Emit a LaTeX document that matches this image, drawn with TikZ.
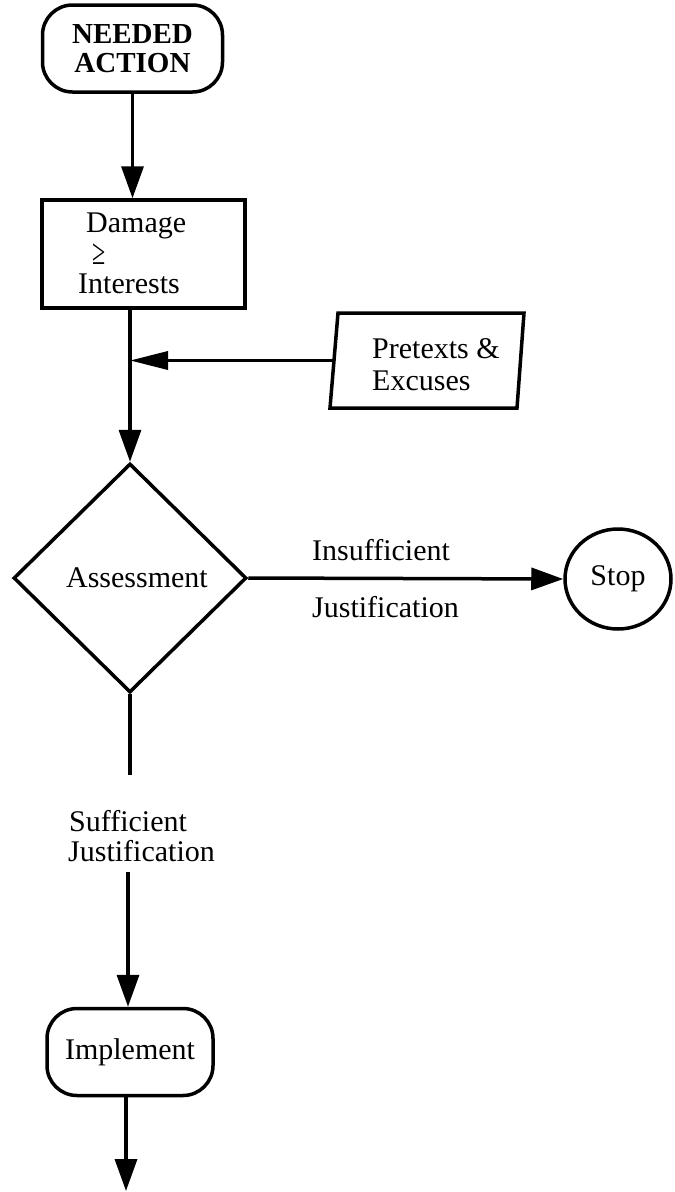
\documentclass[tikz,border=0pt]{standalone}
\usepackage{fontspec}
\setmainfont{Liberation Serif}
\usetikzlibrary{arrows.meta,shapes.geometric,calc}
\begin{document}
\begin{tikzpicture}[x=1pt,y=-1pt,
  every node/.style={font=\fontsize{30}{31}\selectfont, inner sep=0pt},
  ln/.style={line width=3.5pt},
  arr/.style={ln, -{Triangle[length=32pt,width=22pt]}},
  arrlong/.style={ln, -{Triangle[length=38pt,width=18pt]}},
  rbox/.style={draw, ln, rectangle, rounded corners=30pt},
  sbox/.style={draw, ln, rectangle},
  lbl/.style={anchor=base west}
]
\useasboundingbox (0,0) rectangle (675,1192);

% NEEDED ACTION
\node[rbox, minimum width=180pt, minimum height=87pt, align=center,
      font=\bfseries\fontsize{29}{29}\selectfont] (need) at (132.5,48.5) {NEEDED\\ACTION};

% Damage >= Interests
\node[sbox, minimum width=203pt, minimum height=108pt] (dam) at (143.5,254) {};
\node[lbl] (damA) at (86,232) {Damage};
\node[lbl] (damB) at (92,264) {\scalebox{0.8}[1.2]{≥}};
\node[lbl] (damC) at (78,293) {Interests};

% Pretexts & Excuses
\coordinate (preTL) at (338,313);
\coordinate (preTR) at (524,313);
\coordinate (preBR) at (517,408);
\coordinate (preBL) at (330,408);
\draw[ln, line join=miter] (preTL) -- (preTR) -- (preBR) -- (preBL) -- cycle;
\coordinate (pre) at ($(preTL)!0.5!(preBL)$);
\node[lbl] (preA) at (372,358) {Pretexts \&};
\node[lbl] (preB) at (372,390) {Excuses};

% Assessment
\node[draw, ln, diamond, aspect=1, minimum width=233pt, minimum height=229pt] (dia) at (130,578) {\hspace*{14pt}Assessment};

% Stop
\node[draw, ln, ellipse, minimum width=106pt, minimum height=100pt] (stop) at (618,579) {Stop};

% Implement
\node[rbox, minimum width=166pt, minimum height=87pt] (impl) at (130,1052) {\raisebox{4pt}{Implement}};

% labels
\node[lbl] (insA) at (312,560) {Insufficient};
\node[lbl] (insB) at (312,617) {Justification};
\node[lbl] (sufA) at (69,831) {Sufficient};
\node[lbl] (sufB) at (68,861) {Justification};

% connectors
\draw[arr] (need.south) -- (need.south |- dam.north);
\draw[arr] (dia.north |- dam.south) -- (dia.north);
\draw[arrlong] (pre) -- (pre -| dia.north);
\draw[arr] (dia.east) -- (stop.west);
\coordinate (c1) at (130,775);
\draw[ln] (dia.south) -- (c1);
\coordinate (c2) at (128,872);
\draw[arr] (c2) -- (c2 |- impl.north);
\coordinate (c3) at (126,1191);
\draw[arr] (impl.south -| c3) -- (c3);
\end{tikzpicture}
\end{document}
